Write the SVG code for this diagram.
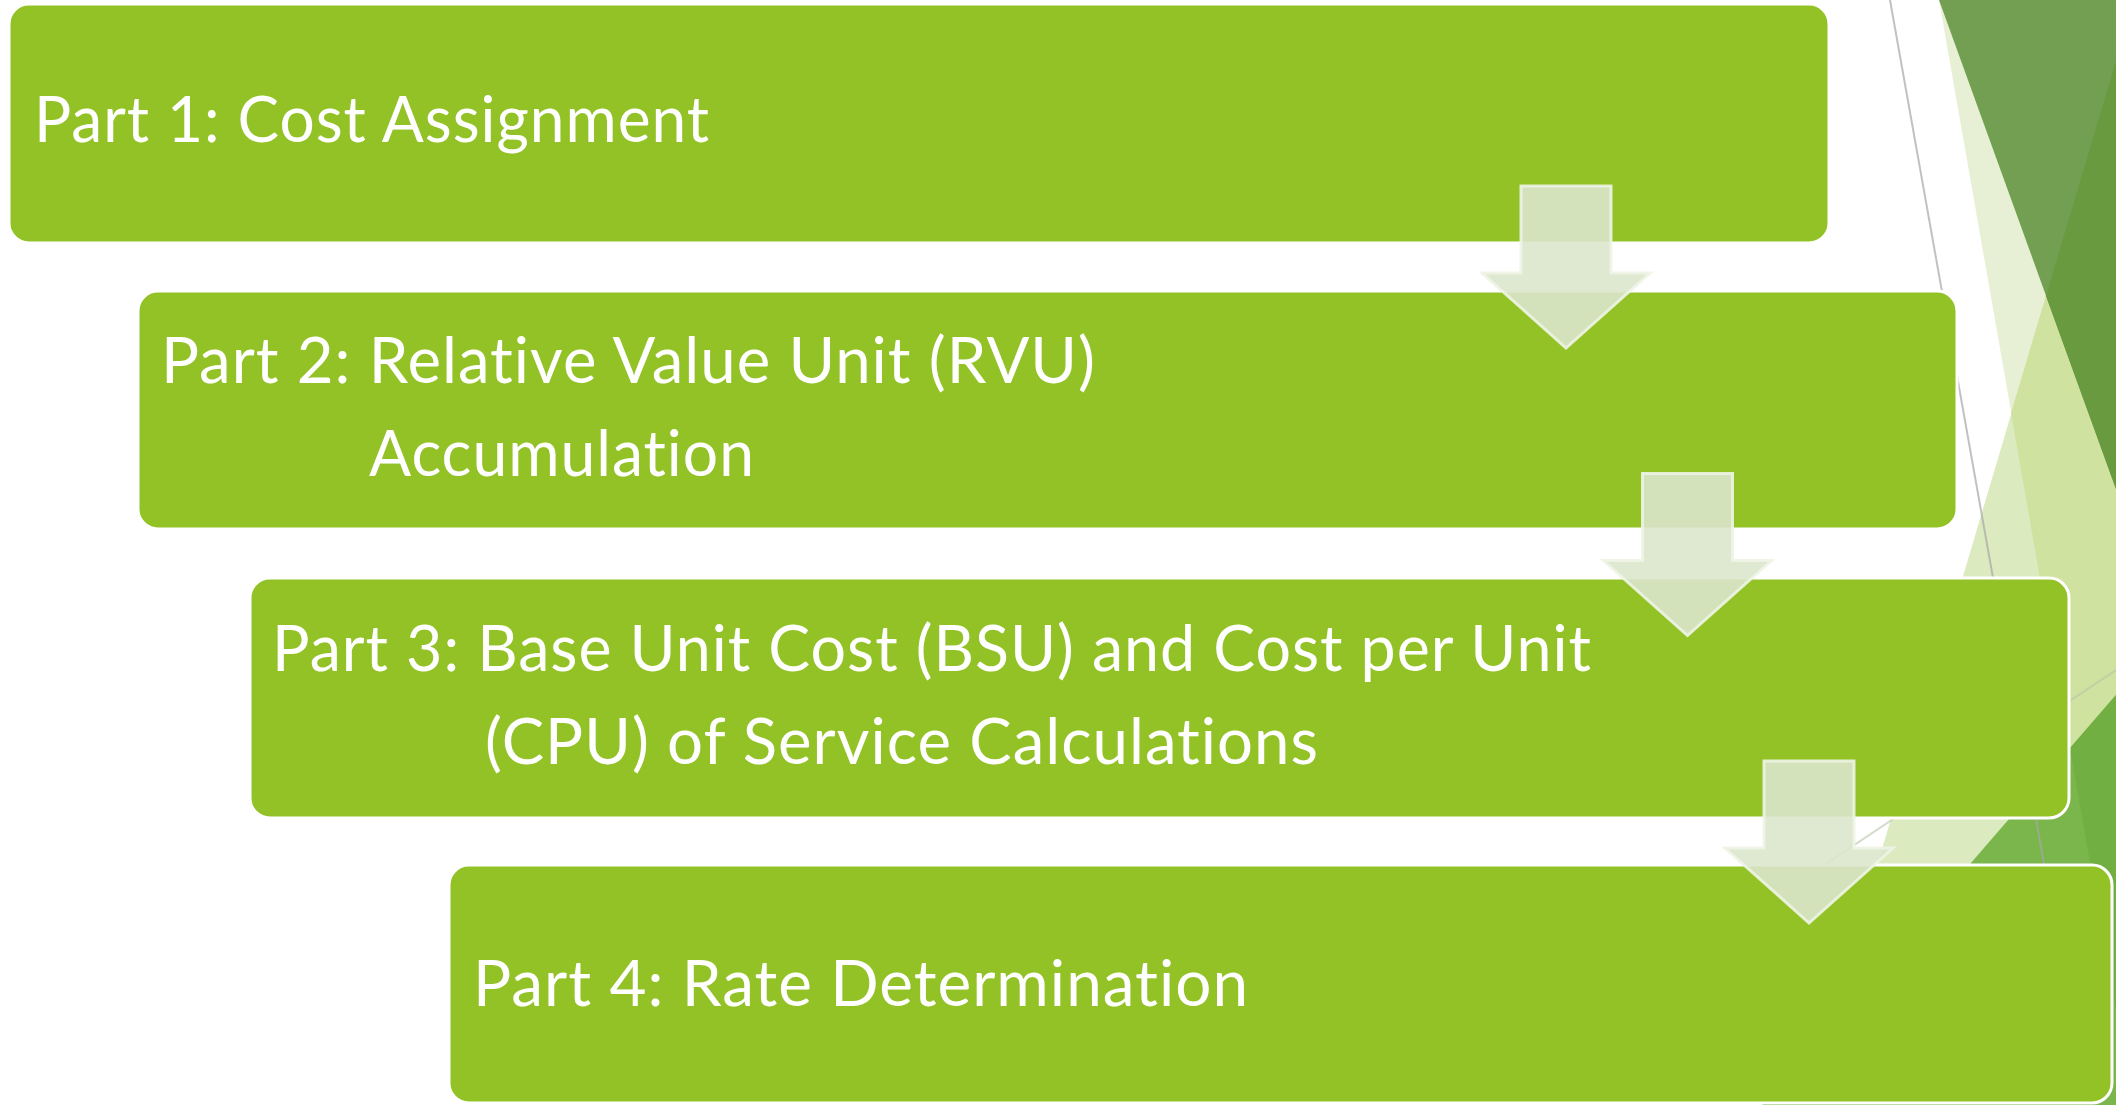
<svg xmlns="http://www.w3.org/2000/svg" width="2116" height="1105" viewBox="0 0 2116 1105">
  <style>
    .step { fill: #92C225; stroke: #FFFFFF; stroke-width: 3; }
    .label { font-family: "Lato", "Open Sans", "Liberation Sans", sans-serif; font-size: 63px; fill: #FFFFFF; letter-spacing: 1px; font-variant-ligatures: none; font-feature-settings: "liga" 0, "clig" 0, "dlig" 0; }
    .flow { fill: #DBE6CC; fill-opacity: 0.9; stroke: #EEF4E6; stroke-opacity: 0.9; stroke-width: 3; stroke-linejoin: miter; }
    .rule { fill: none; stroke: #A6A6A6; stroke-opacity: 0.7; stroke-width: 2; }
    .rule-soft { fill: none; stroke: #B8C4A8; stroke-opacity: 0.6; stroke-width: 2; }
  </style>
  <defs>
    <!-- downward block arrow, origin at the top centre of its shaft -->
    <path id="down-arrow" d="M -45 0 L 45 0 L 45 87 L 84 87 L 0 162 L -84 87 L -45 87 Z"/>
  </defs>

  <rect x="0" y="0" width="2116" height="1105" fill="#FFFFFF"/>

  <!-- faceted backdrop on the right edge -->
  <g id="backdrop">
    <polygon points="1939,0 2116,0 2116,1011" fill="#E7F0D5"/>
    <polygon points="2116,61 1806,1105 2116,1105" fill="#DCEAC0"/>
    <polygon points="2116,61 2011,413 2116,1011" fill="#CFE2A0"/>
    <polygon points="1939,0 2116,0 2116,489" fill="#739F52"/>
    <polygon points="2116,61 2046,296 2116,489" fill="#6A9A3F"/>
    <polygon points="2116,695 1762,1105 2116,1105" fill="#7AB64B"/>
    <polygon points="2116,695 2070,748 2116,1011" fill="#72AF42"/>
    <line class="rule" x1="1890" y1="0" x2="2087" y2="1105"/>
    <line class="rule-soft" x1="2116" y1="670" x2="1760" y2="908"/>
  </g>

  <g id="step1">
    <rect class="step" x="9" y="4" width="1820" height="239" rx="20" ry="20"/>
    <text class="label" x="34" y="142" textLength="676" lengthAdjust="spacingAndGlyphs">Part 1: Cost Assignment</text>
  </g>

  <g id="step2">
    <rect class="step" x="138" y="291" width="1819" height="238" rx="20" ry="20"/>
    <text class="label" x="161" y="383" textLength="935" lengthAdjust="spacingAndGlyphs">Part 2: Relative Value Unit (RVU)</text>
    <text class="label" x="369" y="476" textLength="386" lengthAdjust="spacingAndGlyphs">Accumulation</text>
  </g>

  <g id="step3">
    <rect class="step" x="250" y="578" width="1819" height="240" rx="20" ry="20"/>
    <text class="label" x="272" y="671" textLength="1320" lengthAdjust="spacingAndGlyphs">Part 3: Base Unit Cost (BSU) and Cost per Unit</text>
    <text class="label" x="485" y="764" textLength="834" lengthAdjust="spacingAndGlyphs">(CPU) of Service Calculations</text>
  </g>

  <g id="step4">
    <rect class="step" x="449" y="865" width="1663" height="238" rx="20" ry="20"/>
    <text class="label" x="473" y="1006" textLength="776" lengthAdjust="spacingAndGlyphs">Part 4: Rate Determination</text>
  </g>

  <g id="connectors">
    <use href="#down-arrow" class="flow" transform="translate(1566,186)"/>
    <use href="#down-arrow" class="flow" transform="translate(1687.5,473.5)"/>
    <use href="#down-arrow" class="flow" transform="translate(1809,761)"/>
  </g>
</svg>
